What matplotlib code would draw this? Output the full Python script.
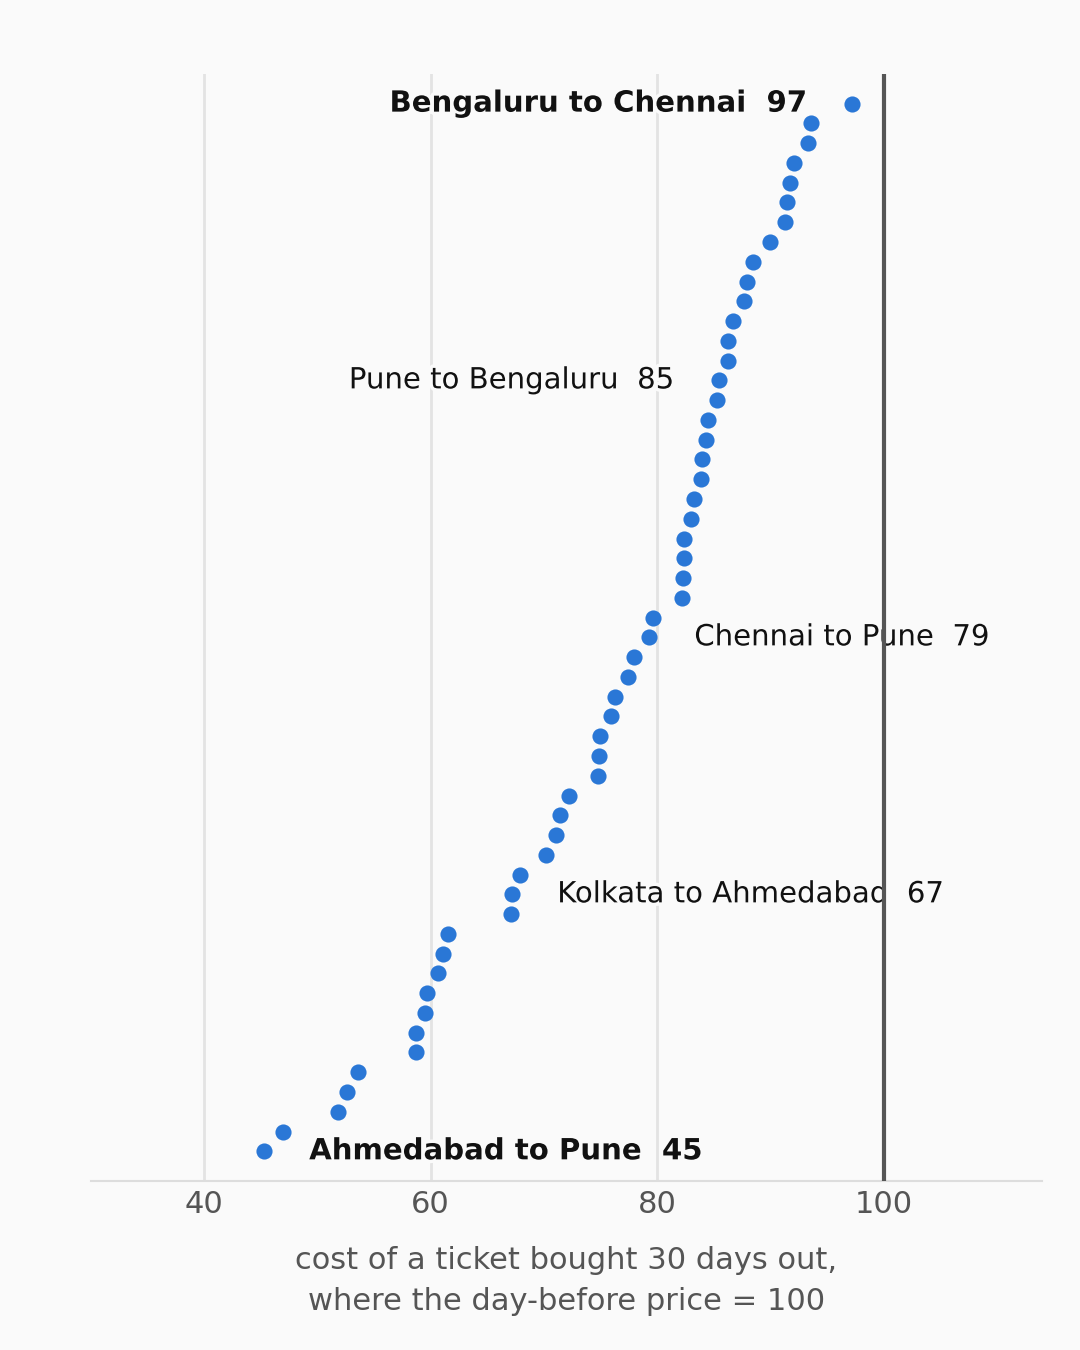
import matplotlib
matplotlib.use("Agg")
import matplotlib.pyplot as plt
import matplotlib.patheffects as pe

values = [97.2, 93.6, 93.3, 92.1, 91.7, 91.5, 91.3, 90.0, 88.5, 87.9,
          87.7, 86.7, 86.3, 86.3, 85.5, 85.3, 84.5, 84.3, 84.0, 83.9,
          83.3, 83.0, 82.4, 82.4, 82.3, 82.2, 79.6, 79.3, 78.0, 77.4,
          76.3, 75.9, 75.0, 74.9, 74.8, 72.2, 71.4, 71.1, 70.2, 67.9,
          67.2, 67.1, 61.5, 61.1, 60.7, 59.7, 59.5, 58.7, 58.7, 53.6,
          52.6, 51.8, 47.0, 45.3]

# labelled routes: (index into values, text, bold, side)
label_idx = [0, 14, 27, 40, 53]
label_text = ["Bengaluru to Chennai  97", "Pune to Bengaluru  85",
              "Chennai to Pune  79", "Kolkata to Ahmedabad  67",
              "Ahmedabad to Pune  45"]
label_bold = [True, False, False, False, True]
label_side = ["left", "left", "right", "right", "right"]

xticks = [40, 60, 80, 100]
xlabel = "cost of a ticket bought 30 days out,\nwhere the day-before price = 100"

BG = "#fafafa"
DOT = "#2a77d6"

fig = plt.figure(figsize=(10.8, 13.5), dpi=100, facecolor=BG)
ax = fig.add_axes([0.084, 0.1252, 0.881, 0.82])
ax.set_facecolor(BG)

n = len(values)
ypos = [n - 1 - i for i in range(n)]
ax.scatter(values, ypos, s=135, color=DOT, zorder=3, linewidths=0)

for gx in [40, 60, 80]:
    ax.axvline(gx, color="#e3e3e3", lw=2, zorder=0)
ax.axvline(100, color="#555555", lw=3, zorder=5)

for idx, txt, bold, side in zip(label_idx, label_text, label_bold, label_side):
    off = -32.5 if side == "left" else 32.5
    ax.annotate(txt, (values[idx], ypos[idx]), xytext=(off, 0),
                textcoords="offset points",
                ha="right" if side == "left" else "left", va="center",
                fontsize=21, fontweight="bold" if bold else "normal",
                color="#111111", zorder=4,
                path_effects=[pe.withStroke(linewidth=5, foreground=BG)])

ax.set_xlim(30, 114)
ax.set_ylim(-1.5, n - 1 + 1.5)
ax.set_yticks([])
ax.set_xticks(xticks)
ax.set_xticklabels([str(t) for t in xticks])
ax.tick_params(axis="x", length=0, labelsize=22, labelcolor="#555555", pad=6.5)
for s in ["left", "right", "top"]:
    ax.spines[s].set_visible(False)
ax.spines["bottom"].set_color("#dddddd")
ax.spines["bottom"].set_linewidth(1.5)
ax.set_xlabel(xlabel, fontsize=22, color="#555555", labelpad=19.5, linespacing=1.5)

fig.savefig("out.png", dpi=100, facecolor=BG)
